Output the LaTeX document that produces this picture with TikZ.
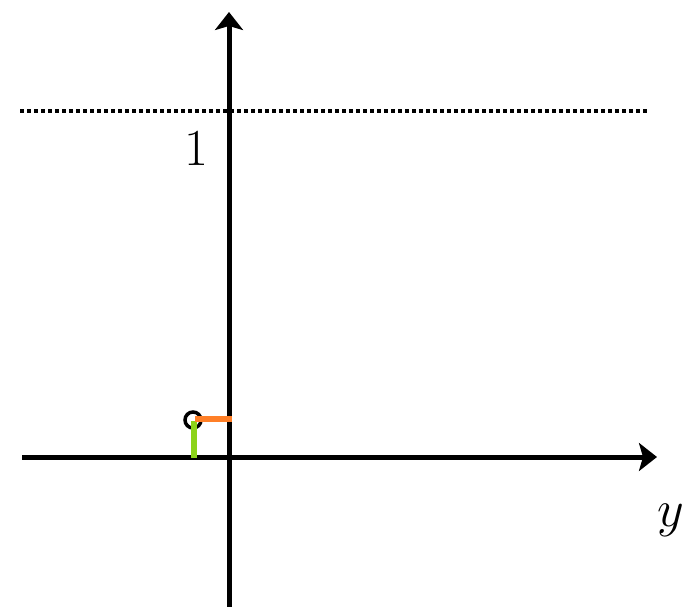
\RequirePackage{fix-cm}
\documentclass[tikz,border=0pt]{standalone}
\usepackage{tikz}
\usetikzlibrary{arrows.meta, positioning}
\definecolor{markOrange}{HTML}{FF7F27}
\definecolor{markGreen}{HTML}{8CD31A}

\begin{document}
\begin{tikzpicture}[x=1pt, y=-1pt,
  axis/.style={line width=5pt, -{Stealth[length=18pt, width=28pt, inset=4pt]}},
  level/.style={line width=3.5pt, dash pattern=on 3.5pt off 3.5pt},
  lbl/.style={font=\fontsize{52}{60}\selectfont, inner sep=0pt, anchor=base west},
  dot/.style={circle, draw, line width=3.5pt, minimum size=16pt, inner sep=0pt},
  marker/.style={line width=6.5pt}]
  \useasboundingbox (0,0) rectangle (685,607);
  % axes
  \coordinate (xl) at (22,457);
  \coordinate (xr) at (657,457);
  \coordinate (yb) at (229,607);
  \coordinate (yt) at (229,12);
  \draw[axis] (xl) -- (xr);
  \draw[axis] (yb) -- (yt);
  % level one
  \coordinate (ll) at (20,111);
  \coordinate (lr) at (648,111);
  \draw[level] (ll) -- (lr);
  \node[lbl] (one) at (184,165) {1};
  \node[lbl] (ylab) at (657,526) {$y$};
  % point near origin
  \node[dot] (pt) at (193,420) {};
  \coordinate (gtop) at (194,421);
  \coordinate (gbot) at (194,458);
  \coordinate (ol) at (195,419);
  \coordinate (or) at (232,419);
  \draw[marker, markGreen] (gtop) -- (gbot);
  \draw[marker, markOrange] (ol) -- (or);
\end{tikzpicture}
\end{document}
